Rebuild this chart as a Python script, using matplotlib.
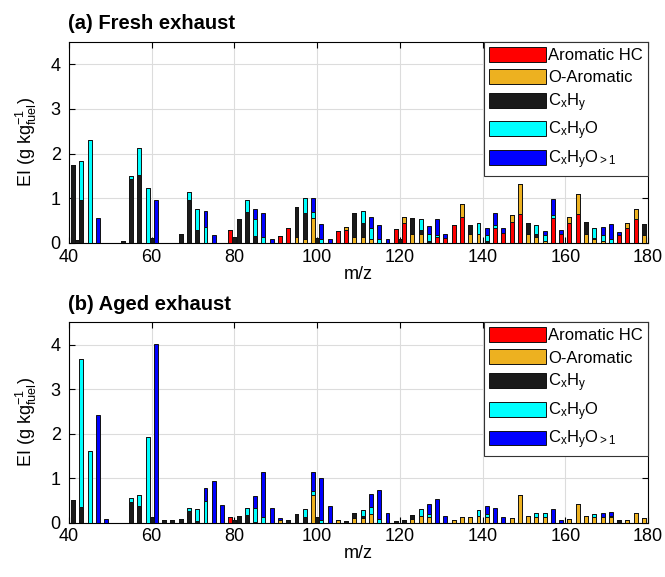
import matplotlib
matplotlib.use("Agg")
import matplotlib.pyplot as plt
import numpy as np

plt.rcParams["font.family"] = ["Liberation Sans", "DejaVu Sans"]
plt.rcParams["mathtext.fontset"] = "custom"
plt.rcParams["mathtext.rm"] = "Liberation Sans"
plt.rcParams["mathtext.it"] = "Liberation Sans:italic"

MZ = np.arange(40, 181)

LABELS = ["Aromatic HC", "O-Aromatic", r"C$_{\mathregular{x}}$H$_{\mathregular{y}}$",
          r"C$_{\mathregular{x}}$H$_{\mathregular{y}}$O",
          r"C$_{\mathregular{x}}$H$_{\mathregular{y}}$O$_{\mathregular{>1}}$"]
COLORS = ["#ff0000", "#edb120", "#1a1a1a", "#00ffff", "#0000ff"]

# panel (a) fresh exhaust, EI by m/z
fresh_arom = {79: 0.28, 91: 0.15, 93: 0.34, 105: 0.27, 107: 0.30, 119: 0.32, 121: 0.45,
              129: 0.13, 131: 0.12, 133: 0.40, 135: 0.58, 143: 0.33, 145: 0.23, 147: 0.47,
              149: 0.65, 157: 0.55, 159: 0.20, 161: 0.44, 163: 0.64, 173: 0.17, 175: 0.33,
              177: 0.53}
fresh_oarom = {95: 0.13, 97: 0.10, 99: 0.55, 107: 0.06, 109: 0.13, 111: 0.13, 113: 0.08,
               121: 0.13, 123: 0.20, 125: 0.20, 135: 0.29, 137: 0.20, 139: 0.20, 147: 0.15,
               149: 0.66, 151: 0.20, 153: 0.14, 155: 0.05, 161: 0.14, 163: 0.45, 165: 0.20,
               167: 0.08, 169: 0.05, 175: 0.11, 177: 0.22, 179: 0.17}
fresh_cxhy = {41: 1.75, 42: 0.07, 43: 0.95, 53: 0.04, 55: 1.44, 57: 1.53, 60: 0.12, 67: 0.21,
              69: 0.97, 71: 0.28, 80: 0.14, 81: 0.53, 83: 0.70, 85: 0.15, 95: 0.68, 97: 0.57,
              100: 0.12, 109: 0.55, 111: 0.31, 120: 0.10, 123: 0.35, 125: 0.08, 127: 0.04,
              137: 0.20, 141: 0.04, 151: 0.24, 153: 0.06, 165: 0.27, 167: 0.04, 179: 0.25}
fresh_cxhyo = {43: 0.89, 45: 2.31, 55: 0.06, 57: 0.59, 59: 1.24, 69: 0.16, 71: 0.49, 73: 0.36,
               83: 0.26, 85: 0.38, 87: 0.13, 97: 0.34, 99: 0.15, 101: 0.08, 111: 0.28,
               113: 0.25, 115: 0.08, 125: 0.25, 127: 0.15, 129: 0.05, 139: 0.24, 141: 0.13,
               143: 0.07, 153: 0.20, 155: 0.12, 157: 0.08, 167: 0.22, 169: 0.12, 171: 0.10}
fresh_cxhyo2 = {47: 0.56, 61: 0.95, 73: 0.36, 75: 0.18, 85: 0.22, 87: 0.55, 89: 0.09, 99: 0.31,
                101: 0.34, 103: 0.10, 113: 0.25, 115: 0.32, 117: 0.10, 127: 0.20, 129: 0.35,
                131: 0.08, 141: 0.17, 143: 0.27, 145: 0.10, 155: 0.10, 157: 0.36, 159: 0.10,
                169: 0.19, 171: 0.32, 173: 0.07}

# panel (b) aged exhaust
aged_arom = {79: 0.12}
aged_oarom = {91: 0.05, 99: 0.62, 105: 0.07, 109: 0.10, 111: 0.10, 113: 0.19, 123: 0.08,
              125: 0.16, 127: 0.12, 133: 0.07, 135: 0.12, 137: 0.12, 139: 0.16, 141: 0.12,
              147: 0.11, 149: 0.62, 151: 0.15, 153: 0.13, 155: 0.13, 161: 0.09, 163: 0.43,
              165: 0.14, 167: 0.13, 169: 0.13, 171: 0.12, 175: 0.06, 177: 0.22, 179: 0.10}
aged_cxhy = {41: 0.51, 43: 0.35, 55: 0.46, 57: 0.37, 60: 0.13, 63: 0.05, 65: 0.05, 67: 0.08,
             69: 0.26, 71: 0.04, 80: 0.05, 81: 0.14, 83: 0.18, 85: 0.02, 93: 0.07, 95: 0.19,
             97: 0.12, 100: 0.12, 107: 0.04, 109: 0.12, 111: 0.05, 119: 0.03, 121: 0.07,
             123: 0.10, 173: 0.05}
aged_cxhyo = {43: 3.32, 45: 1.60, 55: 0.10, 57: 0.25, 59: 1.92, 69: 0.07, 71: 0.26, 73: 0.48,
              83: 0.14, 85: 0.31, 87: 0.13, 97: 0.18, 99: 0.10, 101: 0.05, 111: 0.13,
              113: 0.17, 115: 0.08, 125: 0.15, 127: 0.08, 139: 0.12, 141: 0.08, 153: 0.08,
              155: 0.08, 167: 0.07, 171: 0.04}
aged_cxhyo2 = {47: 2.42, 49: 0.08, 61: 4.01, 73: 0.29, 75: 0.93, 77: 0.40, 85: 0.27, 87: 1.01,
               89: 0.34, 91: 0.05, 99: 0.42, 101: 0.95, 103: 0.37, 113: 0.29, 115: 0.66,
               117: 0.21, 127: 0.23, 129: 0.53, 131: 0.15, 141: 0.17, 143: 0.34, 145: 0.12,
               157: 0.30, 159: 0.07, 169: 0.08, 171: 0.08}

PANELS = [
    ("(a) Fresh exhaust", [fresh_arom, fresh_oarom, fresh_cxhy, fresh_cxhyo, fresh_cxhyo2]),
    ("(b) Aged exhaust", [aged_arom, aged_oarom, aged_cxhy, aged_cxhyo, aged_cxhyo2]),
]


def to_array(d):
    return np.array([d.get(int(m), 0.0) for m in MZ])


fig = plt.figure(figsize=(6.65, 5.77), dpi=100)
rects = [[0.1038, 0.5789, 0.8707, 0.3488], [0.1038, 0.0941, 0.8707, 0.3473]]

for rect, (title, series) in zip(rects, PANELS):
    ax = fig.add_axes(rect)
    bottom = np.zeros(len(MZ))
    for d, c, lab in zip(series, COLORS, LABELS):
        v = to_array(d)
        ax.bar(MZ, v, 0.95, bottom=bottom, color=c, edgecolor="#111111",
               linewidth=0.7, label=lab, zorder=3)
        bottom += v
    ax.set_xlim(40, 180)
    ax.set_ylim(0, 4.5)
    ax.set_xticks(np.arange(40, 181, 20))
    ax.set_yticks([0, 1, 2, 3, 4])
    ax.tick_params(direction="in", top=True, right=True, labelsize=13, length=4)
    ax.tick_params(axis="x", pad=4)
    ax.tick_params(axis="y", pad=6)
    ax.grid(True, color="#dcdcdc", linewidth=0.8, zorder=0)
    ax.set_axisbelow(True)
    ax.set_xlabel("m/z", fontsize=13, labelpad=0)
    ax.set_ylabel(r"EI (g kg$^{\mathregular{-1}}_{\mathregular{fuel}}$)", fontsize=13,
                  labelpad=8)
    ax.set_title(title, loc="left", fontweight="bold", fontsize=14.5, pad=9, x=-0.002)
    leg = ax.legend(loc="upper right", fontsize=12, frameon=True, fancybox=False,
                    edgecolor="#333333", framealpha=1, handlelength=3.4,
                    handleheight=1.0, labelspacing=0.36, borderaxespad=0,
                    handletextpad=0.15, borderpad=0.3)
    leg.get_frame().set_linewidth(0.8)

fig.savefig("out.png", dpi=100)
